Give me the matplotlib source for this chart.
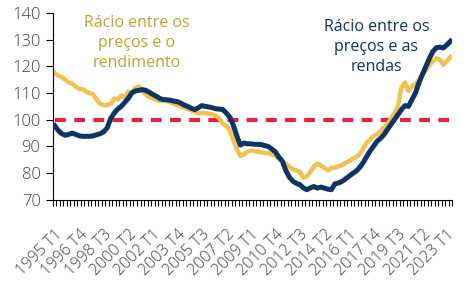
import matplotlib.pyplot as plt
from matplotlib.ticker import FixedLocator

plt.rcParams["font.family"] = ["Open Sans", "DejaVu Sans"]

GOLD_LINE = "#F2C14E"
GOLD_TEXT = "#C9A02C"
NAVY = "#0C3464"
RED = "#E8213F"
TICK_COLOR = "#404040"

# quarterly, 1995 T1 .. 2023 T2
QUARTERS = [f"{1995 + i // 4} T{i % 4 + 1}" for i in range(114)]

# price-to-income ratio
price_income = [
    117.5, 116.5, 116.0, 115.0, 114.0, 113.5, 112.5, 111.5, 111.5, 110.5,
    110.0, 109.5, 107.5, 106.0, 105.5, 105.5, 106.0, 108.0, 107.5, 109.0,
    108.5, 110.5, 110.0, 112.0, 112.5, 111.0, 109.5, 108.5, 108.0, 107.5,
    107.0, 107.5, 107.0, 106.5, 106.0, 105.5, 105.0, 104.5, 104.0, 103.5,
    103.0, 102.5, 102.5, 102.5, 102.3, 102.0, 101.5, 100.5, 98.5, 97.8,
    96.0, 92.5, 89.0, 86.5, 87.0, 88.0, 88.5, 88.3, 88.0, 87.8,
    87.6, 87.5, 87.0, 86.5, 85.5, 84.5, 83.5, 82.5, 81.5, 81.0,
    80.5, 78.3, 78.8, 80.5, 82.5, 83.6, 82.8, 82.0, 81.0, 82.0,
    82.0, 82.5, 83.0, 83.8, 84.5, 85.3, 86.0, 87.0, 89.0, 91.3,
    92.5, 93.8, 94.5, 95.7, 97.0, 98.2, 100.5, 102.5, 105.0, 112.0,
    114.0, 110.8, 112.5, 113.3, 115.0, 117.0, 118.5, 120.5, 122.0, 123.0,
    122.5, 120.6, 122.0, 123.5,
]

# price-to-rent ratio
price_rent = [
    97.8, 96.0, 94.8, 94.2, 94.5, 95.0, 94.5, 94.0, 93.8, 93.8,
    93.8, 94.0, 94.4, 94.8, 95.5, 97.0, 100.5, 102.5, 104.0, 105.0,
    106.5, 108.0, 110.0, 110.8, 111.0, 111.3, 111.0, 110.3, 109.5, 108.8,
    108.0, 107.5, 107.5, 107.3, 107.0, 106.8, 106.2, 105.5, 105.0, 104.3,
    103.8, 104.5, 105.3, 105.0, 104.8, 104.5, 104.1, 104.0, 103.8, 102.5,
    101.0, 98.0, 94.0, 90.5, 91.3, 91.0, 91.0, 90.8, 90.8, 90.7,
    90.3, 90.0, 89.0, 88.0, 86.0, 84.5, 81.0, 78.5, 77.0, 76.2,
    75.7, 74.5, 73.8, 74.5, 75.0, 74.4, 74.8, 74.4, 74.0, 73.8,
    76.0, 76.3, 76.9, 77.8, 78.8, 79.8, 80.7, 82.0, 83.8, 86.0,
    88.2, 90.0, 91.9, 93.0, 94.4, 96.3, 98.2, 100.0, 101.9, 103.8,
    105.3, 105.0, 107.5, 110.0, 113.8, 117.0, 120.0, 123.0, 125.6, 127.0,
    127.2, 126.9, 128.1, 129.4,
]

BASELINE = 100
Y_TICKS = [70, 80, 90, 100, 110, 120, 130, 140]
LABEL_STEP = 7


def main() -> None:
    fig = plt.figure(figsize=(4.77, 2.88), dpi=100)
    ax = fig.add_axes([0.111, 0.306, 0.837, 0.649])

    x = list(range(len(QUARTERS)))
    ax.plot(x, [BASELINE] * len(x), color=RED, linewidth=3.0, dashes=(2.6, 2.0),
            dash_capstyle="butt", zorder=1)
    ax.plot(x, price_income, color=GOLD_LINE, linewidth=3.2, zorder=2)
    ax.plot(x, price_rent, color=NAVY, linewidth=3.6, zorder=3)

    ax.set_xlim(-0.5, len(x) - 0.5)
    ax.set_ylim(70, 140)

    label_pos = x[::LABEL_STEP]
    ax.set_xticks(label_pos)
    ax.set_xticklabels([QUARTERS[i] for i in label_pos], rotation=45, ha="right",
                       rotation_mode="anchor", fontsize=11.5, color=TICK_COLOR,
                       fontweight="light")
    ax.xaxis.set_minor_locator(FixedLocator([i - 0.5 for i in range(len(x) + 1)]))
    ax.tick_params(axis="x", which="major", length=0, pad=19)
    ax.tick_params(axis="x", which="minor", length=4, width=0.8, direction="out")

    ax.set_yticks(Y_TICKS)
    ax.set_yticklabels([str(v) for v in Y_TICKS], fontweight="light")
    ax.tick_params(axis="y", length=5, width=0.8, labelsize=12, labelcolor=TICK_COLOR, pad=4)

    for side in ("top", "right"):
        ax.spines[side].set_visible(False)
    for side in ("left", "bottom"):
        ax.spines[side].set_linewidth(0.8)

    ax.text(0.21, 0.99, "Rácio entre os\npreços e o\nrendimento", transform=ax.transAxes,
            ha="center", va="top", fontsize=11.5, color=GOLD_TEXT, linespacing=1.35)
    ax.text(0.81, 0.97, "Rácio entre os\npreços e as\nrendas", transform=ax.transAxes,
            ha="center", va="top", fontsize=11.5, color=NAVY, linespacing=1.35)

    fig.savefig("out.png", dpi=100)
    plt.close(fig)


if __name__ == "__main__":
    main()
